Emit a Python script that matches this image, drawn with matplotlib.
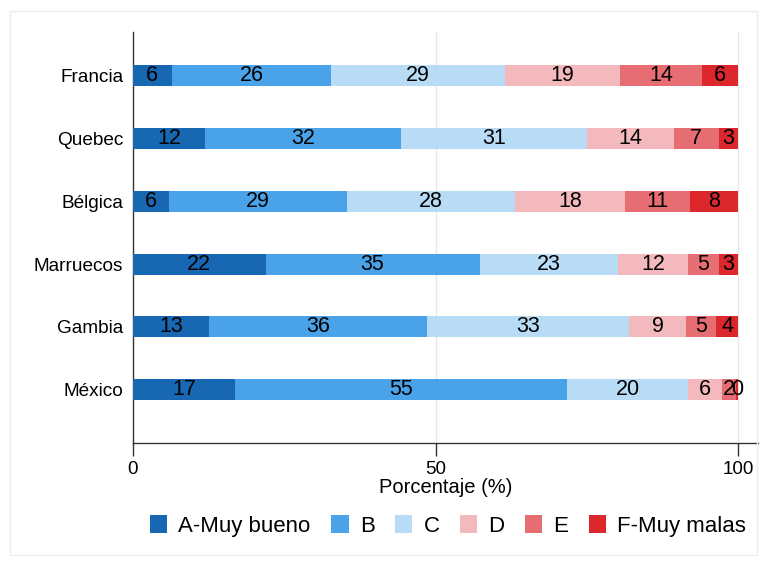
import matplotlib
matplotlib.use("Agg")
import matplotlib.pyplot as plt
from matplotlib.patches import Rectangle
import numpy as np

plt.rcParams['font.family'] = ['Liberation Sans', 'DejaVu Sans']

countries = ["Francia", "Quebec", "Bélgica", "Marruecos", "Gambia", "México"]
cat_names = ["A-Muy bueno", "B", "C", "D", "E", "F-Muy malas"]
A = [6.4, 11.9, 5.9, 21.9, 12.6, 16.8]
B = [26.4, 32.4, 29.4, 35.4, 36.0, 54.9]
C = [28.7, 30.7, 27.9, 22.9, 33.4, 20.1]
D = [19.0, 14.4, 18.2, 11.6, 9.4, 5.6]
E = [13.6, 7.4, 10.6, 5.0, 5.0, 2.2]
F = [5.9, 3.2, 8.0, 3.2, 3.6, 0.4]
series = [A, B, C, D, E, F]
colors = ["#1767b2", "#4aa3e8", "#b9dcf6", "#f3b9bd", "#e66e73", "#dc282d"]
xticks = [0, 50, 100]

fig = plt.figure(figsize=(7.67, 5.65), dpi=100)
fig.patches.append(Rectangle((10/767, 1-555/565), 747/767, 544/565,
                             transform=fig.transFigure, fill=False,
                             edgecolor="#ededed", linewidth=1.0))
ax = fig.add_axes([133/767, 1-443/565, 625/767, 411/565])

ypos = np.arange(len(countries))[::-1]
left = np.zeros(len(countries))
for name, vals, col in zip(cat_names, series, colors):
    vals = np.array(vals)
    ax.barh(ypos, vals, left=left, height=0.335, color=col, label=name,
            linewidth=0, zorder=3)
    for y, l, v in zip(ypos, left, vals):
        ax.text(l + v/2, y, "%.0f" % v, ha="center", va="center",
                fontsize=15.5, color="black", zorder=4)
    left = left + vals

ax.set_xlim(0, 103.3)
ax.set_ylim(-0.85, 5.70)
ax.set_yticks(ypos)
ax.set_yticklabels(countries, fontsize=13.7)
ax.tick_params(axis="y", length=0, pad=7)
ax.set_xticks(xticks)
ax.set_xticklabels([str(t) for t in xticks], fontsize=13.5)
ax.tick_params(axis="x", length=9, width=1, pad=4, color="#333333")
ax.set_xlabel("Porcentaje (%)", fontsize=14.5, labelpad=0)
for x in xticks[1:]:
    ax.axvline(x, color="#e6e6e6", linewidth=0.9, zorder=1)
for s in ["top", "right"]:
    ax.spines[s].set_visible(False)
for s in ["left", "bottom"]:
    ax.spines[s].set_color("#333333")
    ax.spines[s].set_linewidth(1.0)

handles, labels = ax.get_legend_handles_labels()
fig.legend(handles, labels, loc="center", bbox_to_anchor=(448/767, 1-526/565),
           ncol=6, frameon=False, fontsize=16, handlelength=0.78,
           handleheight=0.82, handletextpad=0.5, columnspacing=0.92)

fig.savefig("out.png", dpi=100, facecolor="white")
